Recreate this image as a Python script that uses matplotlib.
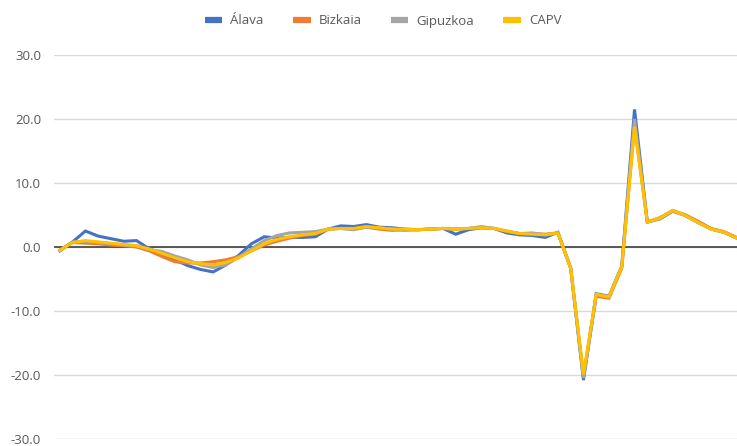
import numpy as np
import matplotlib.pyplot as plt
from matplotlib.lines import Line2D

# quarterly series, 2010Q1 .. 2023Q2 (54 points)
alava = [
    -0.6, 0.8, 2.5, 1.7, 1.3, 0.9, 1.0, -0.3, -1.0, -2.0,
    -2.9, -3.5, -3.9, -2.8, -1.3, 0.5, 1.6, 1.4, 1.5, 1.5,
    1.6, 2.8, 3.3, 3.2, 3.5, 3.1, 3.0, 2.8, 2.7, 2.8,
    2.9, 2.0, 2.7, 3.0, 2.9, 2.2, 1.9, 1.8, 1.5, 2.3,
    -3.3, -20.8, -7.3, -7.7, -3.0, 21.5, 3.9, 4.4, 5.6, 4.9,
    3.8, 2.8, 2.3, 1.4,
]
bizkaia = [
    -0.5, 0.7, 0.6, 0.5, 0.3, 0.2, 0.0, -0.6, -1.5, -2.3,
    -2.5, -2.5, -2.3, -2.0, -1.5, -0.6, 0.3, 0.9, 1.4, 1.8,
    2.0, 2.8, 2.9, 2.8, 3.1, 2.8, 2.6, 2.7, 2.7, 2.8,
    2.9, 2.8, 2.9, 3.0, 2.9, 2.4, 2.1, 2.1, 2.0, 2.2,
    -3.3, -20.2, -7.7, -8.0, -3.3, 19.0, 3.9, 4.6, 5.7, 5.0,
    4.0, 2.9, 2.4, 1.5,
]
gipuzkoa = [
    -0.5, 0.8, 0.9, 0.7, 0.5, 0.3, 0.2, -0.4, -0.7, -1.4,
    -2.0, -2.8, -3.2, -2.8, -1.6, -0.3, 1.0, 1.8, 2.2, 2.3,
    2.4, 2.8, 2.9, 2.7, 3.1, 3.0, 2.8, 2.6, 2.7, 2.8,
    2.9, 2.8, 2.9, 3.2, 2.9, 2.5, 2.1, 2.2, 1.9, 2.2,
    -3.3, -20.5, -7.4, -7.8, -3.1, 20.0, 3.9, 4.5, 5.7, 4.9,
    3.8, 2.8, 2.3, 1.4,
]
capv = [
    -0.5, 0.7, 1.0, 0.8, 0.6, 0.4, 0.2, -0.3, -1.0, -1.7,
    -2.3, -2.6, -2.8, -2.4, -1.7, -0.6, 0.5, 1.2, 1.6, 1.9,
    2.1, 2.8, 2.9, 2.9, 3.2, 3.0, 2.8, 2.8, 2.7, 2.8,
    2.9, 2.8, 2.9, 3.0, 2.9, 2.5, 2.1, 2.0, 1.9, 2.2,
    -3.3, -19.9, -7.4, -7.8, -3.1, 18.8, 3.9, 4.5, 5.7, 4.9,
    3.8, 2.8, 2.3, 1.4,
]
series_names = ["Álava", "Bizkaia", "Gipuzkoa", "CAPV"]
yticks = [-30, -20, -10, 0, 10, 20, 30]

colors = ["#4472C4", "#ED7D31", "#A5A5A5", "#FFC000"]
txt = "#595959"

plt.rcParams["font.family"] = ["Open Sans", "DejaVu Sans"]

W, H = 737, 446
fig = plt.figure(figsize=(W / 100, H / 100), dpi=100)
n = len(capv)
left_px, width_px = 53.5, n * 12.77
ax = fig.add_axes([left_px / W, 7 / H, width_px / W, 384 / H])

x = np.arange(n)
for vals, c, name in zip([alava, bizkaia, gipuzkoa, capv], colors, series_names):
    ax.plot(x, vals, color=c, lw=2.2, label=name, solid_joinstyle="miter",
            zorder=3)

ax.set_xlim(-0.5, n - 0.5)
ax.set_ylim(-30, 30)
ax.set_yticks(yticks)
ax.set_yticklabels(["%.1f" % v for v in yticks])
ax.yaxis.grid(True, color="#d9d9d9", lw=1.0)
ax.axhline(0, color="#404040", lw=1.2, zorder=2)
ax.set_axisbelow(True)
ax.set_xticks([])
for s in ax.spines.values():
    s.set_visible(False)
ax.tick_params(axis="y", length=0, pad=9, labelsize=9.5, labelcolor=txt)

handles = [Line2D([], [], color=c, lw=4.5, solid_capstyle="butt") for c in colors]
fig.legend(handles, series_names, loc="center", bbox_to_anchor=(383 / W, 1 - 21 / H),
           ncol=4, frameon=False, fontsize=9.5, labelcolor=txt,
           handlelength=1.35, handletextpad=0.6, columnspacing=2.2)

fig.savefig("out.png", dpi=100)
